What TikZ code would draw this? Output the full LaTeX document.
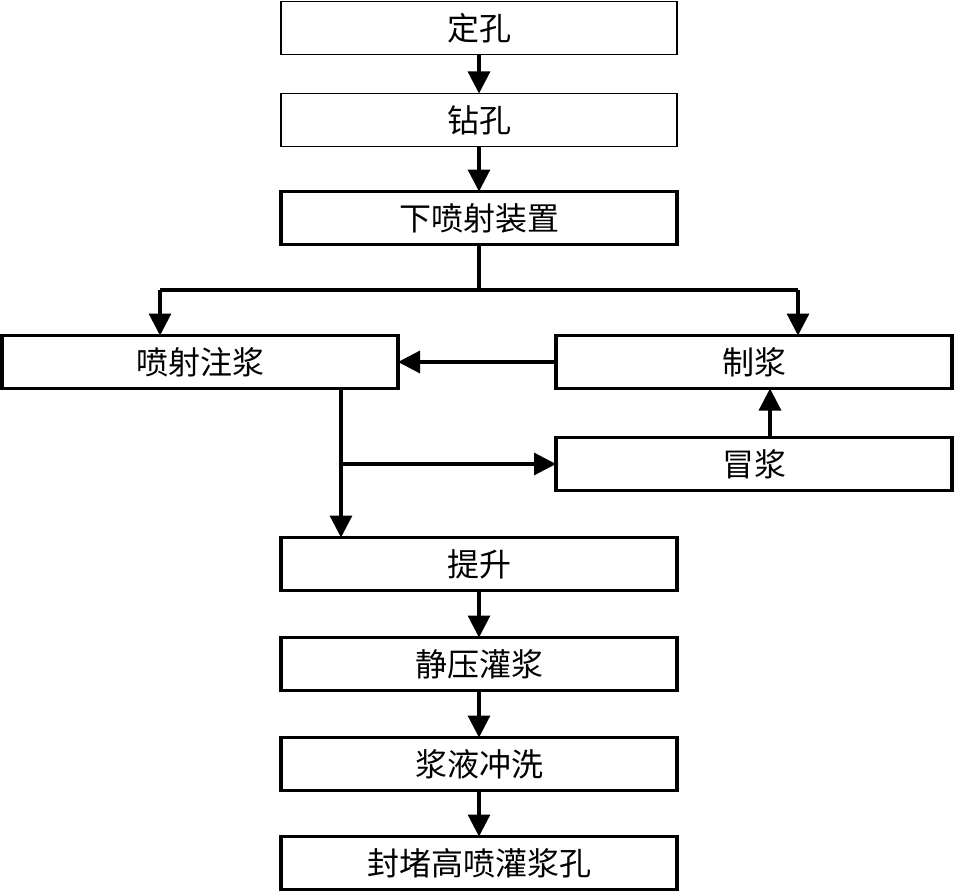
\documentclass[tikz,border=0pt]{standalone}
\usepackage{fontspec}
\newfontfamily\cjk{Noto Sans CJK SC}
\usepackage{tikz}
\usetikzlibrary{arrows.meta}
\def\BoxW{396pt}

\begin{document}
\begin{tikzpicture}[x=1pt, y=-1pt,
    stage/.style={draw, rectangle, outer sep=0pt, line width=3.2pt, minimum width=\BoxW, minimum height=53pt, font=\cjk\fontsize{32}{36}\selectfont},
    thinstage/.style={stage, line width=1.2pt},
    flow/.style={line width=3.2pt, -{Triangle[length=22pt,width=22pt]}},
    link/.style={line width=3.2pt}]
    \useasboundingbox (0,0) rectangle (956,891);

    \node[thinstage] (locate)   at (479,28)  {定孔};
    \node[thinstage] (drill)    at (479,120) {钻孔};
    \node[stage]     (lower)    at (479,218) {下喷射装置};
    \node[stage]     (jet)      at (200,362) {喷射注浆};
    \node[stage]     (mix)      at (754,362) {制浆};
    \node[stage]     (overflow) at (754,464) {冒浆};
    \node[stage]     (lift)     at (479,564) {提升};
    \node[stage]     (press)    at (479,664) {静压灌浆};
    \node[stage]     (flush)    at (479,764) {浆液冲洗};
    \node[stage]     (seal)     at (479,863) {封堵高喷灌浆孔};

    \coordinate (split)  at (479,290);
    \coordinate (splitL) at (160,290);
    \coordinate (splitR) at (798,290);
    \coordinate (down)   at (341,389);
    \coordinate (tap)    at (341,464);
    \coordinate (up)     at (770,437);

    \draw[flow] (locate) -- (drill);
    \draw[flow] (drill) -- (lower);
    \draw[link] (lower.south) -- (split);
    \draw[link] (splitL) -- (splitR);
    \draw[flow] (splitL) -- (splitL |- jet.north);
    \draw[flow] (splitR) -- (splitR |- mix.north);
    \draw[flow] (mix) -- (jet);
    \draw[flow] (up) -- (up |- mix.south);
    \draw[flow] (down) -- (down |- lift.north);
    \draw[flow] (tap) -- (overflow.west);
    \draw[flow] (lift) -- (press);
    \draw[flow] (press) -- (flush);
    \draw[flow] (flush) -- (seal);

\end{tikzpicture}
\end{document}
